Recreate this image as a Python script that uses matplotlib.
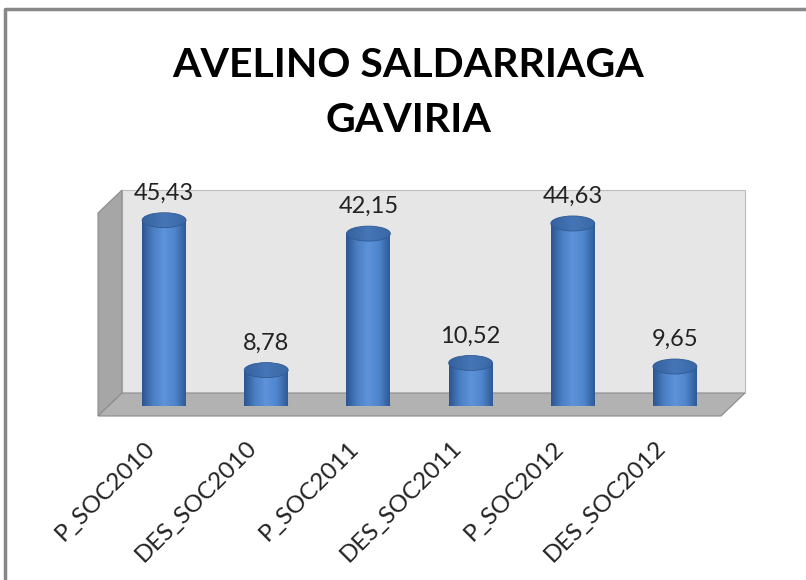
import numpy as np
import matplotlib
matplotlib.use("Agg")
import matplotlib.pyplot as plt
from matplotlib.patches import Rectangle, Ellipse, Polygon
from matplotlib.colors import LinearSegmentedColormap

categorias = ["P_SOC2010", "DES_SOC2010", "P_SOC2011", "DES_SOC2011", "P_SOC2012", "DES_SOC2012"]
valores = [45.43, 8.78, 42.15, 10.52, 44.63, 9.65]
etiquetas = ["45,43", "8,78", "42,15", "10,52", "44,63", "9,65"]
titulo = "AVELINO SALDARRIAGA\nGAVIRIA"

W, H = 806, 580
fig = plt.figure(figsize=(W / 100, H / 100), dpi=100)

# fondo en pixeles (marco, paredes, piso)
bg = fig.add_axes([0, 0, 1, 1])
bg.set_xlim(0, W)
bg.set_ylim(H, 0)
bg.axis("off")
bg.plot([5, 5, W + 5], [H + 5, 9, 9], color="#878787", lw=2.5)
bg.add_patch(Polygon([(122, 190), (745, 190), (745, 393), (122, 393)], closed=True, fc="#e6e6e6", ec="#bdbdbd", lw=0.8))
bg.add_patch(Polygon([(98, 213), (122, 190), (122, 393), (98, 416)], closed=True, fc="#a6a6a6", ec="#8c8c8c", lw=0.8))
bg.add_patch(Polygon([(98, 416), (122, 393), (745, 393), (721, 416)], closed=True, fc="#b2b2b2", ec="#8c8c8c", lw=0.8))

bg.text(W / 2 + 5, 93, titulo, ha="center", va="center", fontsize=29.5, fontweight="bold",
        family="Lato", linespacing=1.6, color="black")

# ejes de datos
px_u = 4.09
x0, x1 = 113, 726
ybase = 406
ytop = 50
ax = fig.add_axes([x0 / W, (H - ybase) / H, (x1 - x0) / W, ytop * px_u / H])
ax.set_xlim(-0.5, len(valores) - 0.5)
ax.set_ylim(0, ytop)
ax.axis("off")
ax.patch.set_alpha(0)

w = 0.43
eh = 15 / px_u
cmap = LinearSegmentedColormap.from_list("cil", ["#2c5590", "#4a7fc4", "#5e93da", "#4f85cc", "#2f5a95"])
cmap_tapa = LinearSegmentedColormap.from_list("tapa", ["#35619f", "#4676b6", "#3a67a6"])
grad = np.linspace(0, 1, 100).reshape(1, -1)

for i, v in enumerate(valores):
    fondo = Ellipse((i, 0), w, eh, fc="#2f5a95", ec="none", zorder=2)
    ax.add_patch(fondo)
    cuerpo = Rectangle((i - w / 2, 0), w, v, fc="none", ec="none", zorder=3)
    ax.add_patch(cuerpo)
    im = ax.imshow(grad, cmap=cmap, extent=(i - w / 2, i + w / 2, 0, v), aspect="auto", zorder=3)
    im.set_clip_path(cuerpo)
    im2 = ax.imshow(grad, cmap=cmap, extent=(i - w / 2, i + w / 2, -eh / 2, 0), aspect="auto", zorder=3)
    im2.set_clip_path(fondo)
    tapa = Ellipse((i, v), w, eh, fc="none", ec="#2f5a95", lw=0.6, zorder=5)
    ax.add_patch(tapa)
    im3 = ax.imshow(grad, cmap=cmap_tapa, extent=(i - w / 2, i + w / 2, v - eh / 2, v + eh / 2), aspect="auto", zorder=4)
    im3.set_clip_path(tapa)
    ax.annotate(etiquetas[i], (i, v), xytext=(0, 27), textcoords="offset pixels",
                ha="center", va="center", fontsize=17, family="Lato", color="#222222")

for i, c in enumerate(categorias):
    ax.annotate(c, (i, 0), xytext=(-20, -31), textcoords="offset pixels", rotation=45,
                rotation_mode="anchor", ha="right", va="top", fontsize=17.5, family="Lato",
                color="#222222", annotation_clip=False)

ax.set_xlim(-0.5, len(valores) - 0.5)
ax.set_ylim(0, ytop)

fig.savefig("out.png", dpi=100)
